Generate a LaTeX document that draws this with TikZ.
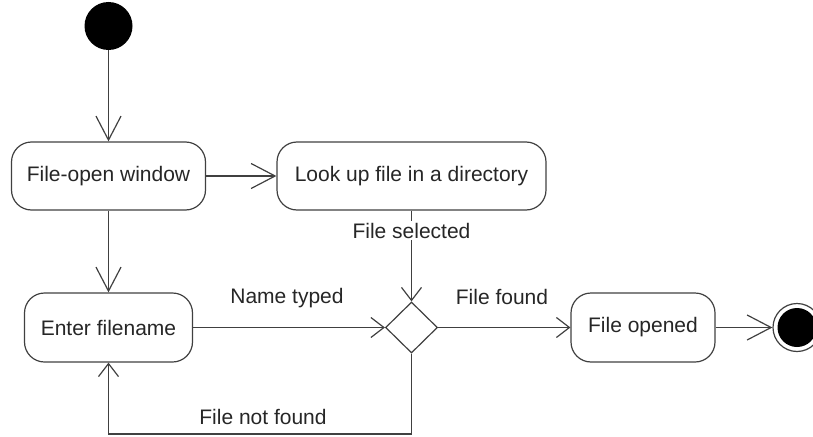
\documentclass[tikz,border=0pt]{standalone}
\usepackage{fontspec}
\setmainfont{Liberation Sans}
\usetikzlibrary{arrows.meta,shapes.geometric}
\begin{document}
\begin{tikzpicture}[x=1pt,y=-1pt,
  every node/.style={font=\fontsize{21}{25}\selectfont, text=black!85},
  line/.style={draw=black!75, line width=1.2pt},
  statebox/.style={line, rounded corners=20pt, minimum height=68pt, inner sep=0pt},
  bigbarb/.style={-{Straight Barb[length=24pt,width=25pt,line width=1.2pt]}},
  smallbarb/.style={-{Straight Barb[length=13pt,width=20pt,line width=1.2pt]}},
  lbl/.style={inner sep=2pt}
]
\useasboundingbox (0,0) rectangle (813,436);
\clip (0,0) rectangle (813,436);
\node[circle, fill=black, minimum size=48pt, inner sep=0pt] (start) at (108.5,26) {};
\node[statebox, minimum width=194pt] (fow) at (108.5,176) {File-open window};
\node[statebox, minimum width=269pt] (lu) at (411.5,176) {Look up file in a directory};
\node[statebox, minimum width=168pt, minimum height=69pt] (ef) at (108.5,327.5) {Enter filename};
\node[diamond, line, minimum width=52pt, minimum height=51pt, inner sep=0pt] (dia) at (411.5,327.5) {};
\node[statebox, minimum width=144pt, minimum height=69pt] (fo) at (643,327.5) {File opened};
\node[circle, line, minimum size=48pt, inner sep=0pt,
  path picture={\fill[black] (path picture bounding box.center) circle (19.5pt);}] (end) at (797,327.5) {};
\coordinate (c1) at (411.5,434);

\draw[line, bigbarb] (start) -- (fow);
\draw[line, bigbarb] (fow) -- (lu);
\draw[line, bigbarb] (fow) -- (ef);
\draw[line, smallbarb] (lu) -- node[pos=0.22, fill=white, lbl] {File selected} (dia.north);
\draw[line, smallbarb] (ef) -- (dia.west);
\draw[line, smallbarb] (dia.east) -- (fo);
\draw[line, bigbarb] (fo) -- (end);
\draw[line, smallbarb] (dia.south) -- (c1) -| (ef.south);

\node[lbl] (nt) at (287,298) {Name typed};
\node[lbl] (ff) at (502,297) {File found};
\node[lbl] (fnf) at (263,417) {File not found};
\end{tikzpicture}
\end{document}
